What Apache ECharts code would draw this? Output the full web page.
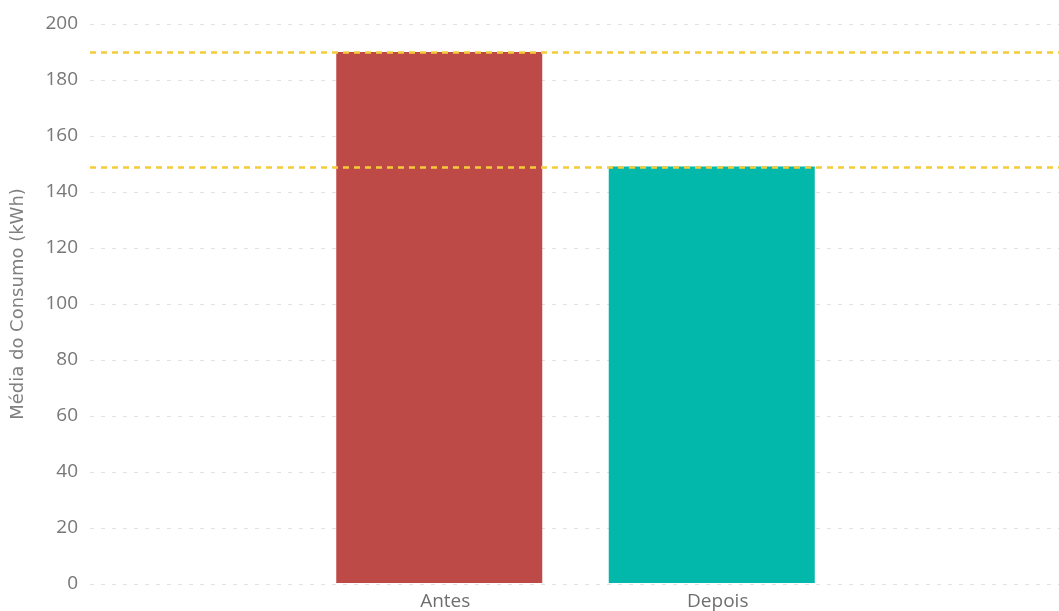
<!DOCTYPE html>
<html>
<head>
<meta charset="utf-8">
<script src="https://cdn.jsdelivr.net/npm/echarts@6/dist/echarts.min.js"></script>
<style>
html,body{margin:0;padding:0;background:#fff;}
#chart{width:1059px;height:611px;}
</style>
</head>
<body>
<div id="chart"></div>
<script>
const categories = ['Antes', 'Depois'];
const values = [190, 149];
const barColors = ['#BE4A47', '#01B8AA'];
const yTicks = { min: 0, max: 200, interval: 20 };
const axisTitle = 'Média do Consumo (kWh)';

const font = '"Open Sans", "Noto Sans", sans-serif';
const chart = echarts.init(document.getElementById('chart'));
chart.setOption({
  animation: false,
  backgroundColor: '#fff',
  grid: [
    { left: 90, right: 0, top: 24, bottom: 27 },
    { left: 303, width: 545, top: 24, bottom: 27 }
  ],
  xAxis: [
    { gridIndex: 0, type: 'value', min: 0, max: 1, show: false },
    {
      gridIndex: 1, type: 'category', data: categories,
      axisLine: { show: false }, axisTick: { show: false },
      axisLabel: { color: '#6f6f6f', fontSize: 19, fontFamily: font, margin: 9, padding: [0, 0, 0, 12] }
    }
  ],
  yAxis: [
    {
      gridIndex: 0, type: 'value', min: yTicks.min, max: yTicks.max, interval: yTicks.interval,
      axisLine: { show: false }, axisTick: { show: false },
      axisLabel: { color: '#777', fontSize: 19, fontFamily: font, margin: 12 },
      splitLine: { lineStyle: { color: '#e2e2e2', type: [4, 7], width: 1 } },
      name: axisTitle, nameLocation: 'middle', nameGap: 63,
      nameTextStyle: { color: '#808080', fontSize: 18, fontFamily: '"DejaVu Sans", sans-serif' }
    },
    {
      gridIndex: 1, type: 'value', min: yTicks.min, max: yTicks.max, interval: yTicks.interval,
      show: false
    }
  ],
  series: [
    {
      type: 'bar', xAxisIndex: 1, yAxisIndex: 1,
      barWidth: 206,
      data: values.map((v, i) => ({ value: v, itemStyle: { color: barColors[i] } })),
      z: 2
    },
    {
      type: 'line', xAxisIndex: 0, yAxisIndex: 0, data: [], z: 5,
      markLine: {
        silent: true, symbol: 'none', label: { show: false },
        lineStyle: { color: '#F4CB3A', type: [6, 5], width: 2.5 },
        data: values.map(v => ({ yAxis: v }))
      }
    }
  ]
});
</script>
</body>
</html>
